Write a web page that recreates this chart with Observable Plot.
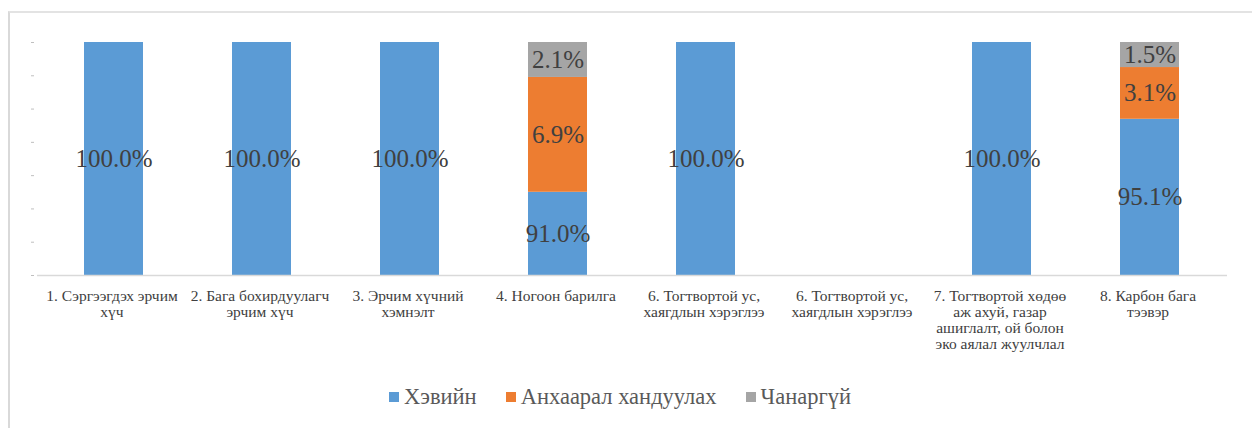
<!DOCTYPE html>
<html>
<head>
<meta charset="utf-8">
<script src="https://cdn.jsdelivr.net/npm/d3@7"></script>
<script src="https://cdn.jsdelivr.net/npm/@observablehq/plot@0.6"></script>
<style>
  html, body { margin: 0; padding: 0; background: #fff; width: 1252px; height: 428px; overflow: hidden; }
  body { position: relative; font-family: "Liberation Serif", "DejaVu Serif", "Times New Roman", Times, serif; }
  #frame { position: absolute; left: 8px; top: 11px; width: 2000px; height: 2000px;
           border-left: 2px solid #d9d9d9; border-top: 2px solid #e3e3e3; pointer-events: none; }
  #legend { display: flex; justify-content: center; align-items: center; gap: 29px;
            padding-top: 20px; padding-right: 12px; font-size: 22.5px; line-height: 24px; color: #595959; }
  #legend span.item { display: flex; align-items: center; gap: 5px; }
  #legend span.sw { display: inline-block; width: 10px; height: 10px; }
  svg text { font-family: "Liberation Serif", "DejaVu Serif", "Times New Roman", Times, serif; }
</style>
</head>
<body>
<div id="chart"></div>
<div id="legend"></div>
<div id="frame"></div>
<script>
// ---- data ----
const categories = [
  "1. Сэргээгдэх эрчим\nхүч",
  "2. Бага бохирдуулагч\nэрчим хүч",
  "3. Эрчим хүчний\nхэмнэлт",
  "4. Ногоон барилга",
  "6. Тогтвортой ус,\nхаягдлын хэрэглээ",
  "6. Тогтвортой ус,\nхаягдлын хэрэглээ",
  "7. Тогтвортой хөдөө\nаж ахуй, газар\nашиглалт, ой болон\nэко аялал жуулчлал",
  "8. Карбон бага\nтээвэр"
];
const seriesNames = ["Хэвийн", "Анхаарал хандуулах", "Чанаргүй"];
const seriesColors = ["#5b9bd5", "#ed7d31", "#a5a5a5"];
const normalValues    = [100, 100, 100, 91.0, 100, null, 100, 95.1];
const attentionValues = [null, null, null, 6.9, null, null, null, 3.1];
const poorValues      = [null, null, null, 2.1, null, null, null, 1.5];
const yTicks = [0.86, 0.88, 0.90, 0.92, 0.94, 0.96, 0.98, 1.00];
const yDomain = [0.86, 1.00];

// ---- build table ----
const seriesValues = [normalValues, attentionValues, poorValues];
const rows = [];
categories.forEach((c, i) => {
  seriesValues.forEach((vals, s) => {
    const v = vals[i];
    if (v != null && v > 0) rows.push({i, series: seriesNames[s], value: v});
  });
});

// label positions: centre of the visible part of each normalized segment
const labels = [];
categories.forEach((c, i) => {
  const segs = rows.filter(r => r.i === i);
  const total = d3.sum(segs, d => d.value);
  let acc = 0;
  segs.forEach(r => {
    const y1 = acc / total, y2 = (acc + r.value) / total;
    acc += r.value;
    const lo = Math.max(y1, yDomain[0]);
    labels.push({i, mid: (lo + y2) / 2, text: r.value.toFixed(1) + "%"});
  });
});

const serif = '"Liberation Serif", "DejaVu Serif", "Times New Roman", Times, serif';
const plot = Plot.plot({
  width: 1252,
  height: 365,
  marginLeft: 37,
  marginRight: 25,
  marginTop: 42,
  marginBottom: 90,
  style: {fontFamily: serif, background: "transparent"},
  x: {domain: d3.range(categories.length), paddingInner: 0.6, paddingOuter: 0.3, label: null},
  y: {domain: yDomain, clamp: true, label: null},
  color: {domain: seriesNames, range: seriesColors},
  marks: [
    Plot.barY(rows, Plot.stackY({x: "i", y: "value", fill: "series", offset: "normalize"})),
    Plot.ruleY([yDomain[0]], {stroke: "#d9d9d9", strokeWidth: 1.5}),
    Plot.axisY({ticks: yTicks, tickSize: 3, tickFormat: () => "", stroke: "#bfbfbf", dx: -3}),
    Plot.axisX({
      tickSize: 0, tickPadding: 14, fontSize: 15.5, lineHeight: 1.04,
      tickFormat: i => categories[i], fill: "#404040", fontFamily: serif, dx: -2
    }),
    Plot.text(labels, {x: "i", y: "mid", text: "text", fontSize: 25, fill: "#404040", fontFamily: serif})
  ]
});
document.getElementById("chart").appendChild(plot);

const legend = document.getElementById("legend");
seriesNames.forEach((n, k) => {
  const it = document.createElement("span");
  it.className = "item";
  const sw = document.createElement("span");
  sw.className = "sw";
  sw.style.background = seriesColors[k];
  const t = document.createElement("span");
  t.textContent = n;
  it.appendChild(sw); it.appendChild(t);
  legend.appendChild(it);
});
</script>
</body>
</html>
